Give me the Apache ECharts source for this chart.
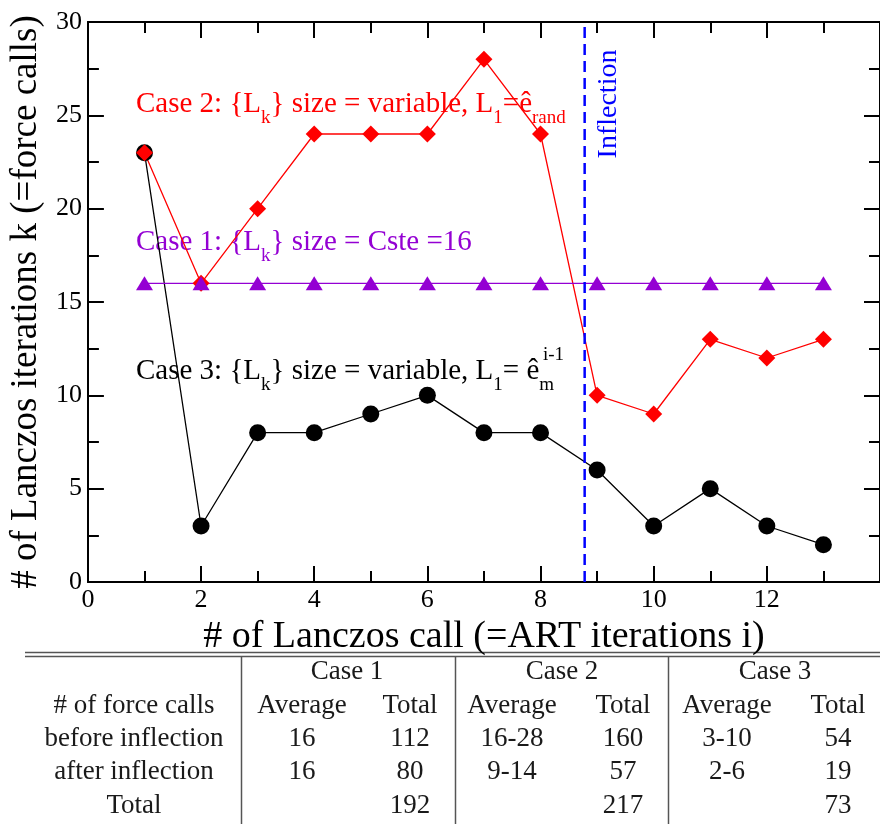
<!DOCTYPE html>
<html>
<head>
<meta charset="utf-8">
<script src="https://cdn.jsdelivr.net/npm/echarts@6/dist/echarts.min.js"></script>
<style>
html,body{margin:0;padding:0;background:#fff;}
#chart{width:880px;height:824px;}
</style>
</head>
<body>
<div id="chart"></div>
<script>
// ---------------- data ----------------
const lanczosCalls = [1, 2, 3, 4, 5, 6, 7, 8, 9, 10, 11, 12, 13];
const case1Iterations = [16, 16, 16, 16, 16, 16, 16, 16, 16, 16, 16, 16, 16];
const case2Iterations = [23, 16, 20, 24, 24, 24, 28, 24, 10, 9, 13, 12, 13];
const case3Iterations = [23, 3, 8, 8, 9, 10, 8, 8, 6, 3, 5, 3, 2];
const inflectionX = 8.78;
const inflectionRange = [0, 30];

const xTitle = '# of Lanczos call (=ART iterations i)';
const yTitle = '# of Lanczos iterations k (=force calls)';

const tableCaseHeaders = ['Case 1', 'Case 2', 'Case 3'];
const tableSubHeaders = ['Average', 'Total', 'Average', 'Total', 'Average', 'Total'];
const tableRowLabels = ['# of force calls', 'before inflection', 'after inflection', 'Total'];
const rowBeforeInflection = ['16', '112', '16-28', '160', '3-10', '54'];
const rowAfterInflection = ['16', '80', '9-14', '57', '2-6', '19'];
const rowTotal = ['', '192', '', '217', '', '73'];

// ---------------- layout / style ----------------
const SERIF = 'Liberation Serif';
const RED = '#ff0000', PURPLE = '#9400d3', BLUE = '#0000ff';

const pairs = (xs, ys) => xs.map((x, i) => [x, ys[i]]);

const chart = echarts.init(document.getElementById('chart'));

function axisCommon() {
  return {
    type: 'value',
    axisLine: { show: true, onZero: false, lineStyle: { color: '#000', width: 2 } },
    axisTick: { show: true, inside: true, length: 16, lineStyle: { color: '#000', width: 2 } },
    minorTick: { show: true, splitNumber: 2, length: 11, lineStyle: { color: '#000', width: 2 } },
    splitLine: { show: false },
    minorSplitLine: { show: false }
  };
}

const xBottom = Object.assign(axisCommon(), {
  position: 'bottom', min: 0, max: 14, interval: 2,
  axisLabel: { show: true, fontFamily: SERIF, fontSize: 26, color: '#000', margin: 5, showMaxLabel: false },
  name: xTitle, nameLocation: 'middle', nameGap: 29,
  nameTextStyle: { fontFamily: SERIF, fontSize: 38, color: '#000' }
});
const xTop = Object.assign(axisCommon(), {
  position: 'top', min: 0, max: 14, interval: 2, axisLabel: { show: false }
});
const yLeft = Object.assign(axisCommon(), {
  position: 'left', min: 0, max: 30, interval: 5,
  axisLabel: { show: true, fontFamily: SERIF, fontSize: 26, color: '#000', margin: 6 },
  name: yTitle, nameLocation: 'middle', nameGap: 40,
  nameTextStyle: { fontFamily: SERIF, fontSize: 37, color: '#000' }
});
const yRight = Object.assign(axisCommon(), {
  position: 'right', min: 0, max: 30, interval: 5, axisLabel: { show: false }
});

// annotation text: plain parts use the base style, {s|..} are subscripts
function annotation(text, color, left, top) {
  return {
    type: 'text', z: 1, left: left, top: top,
    style: {
      text: text,
      fontFamily: SERIF, fontSize: 29, fill: color, lineHeight: 48,
      rich: {
        s: { fontFamily: SERIF, fontSize: 19, fill: color, lineHeight: 18, verticalAlign: 'bottom' }
      }
    }
  };
}

const graphics = [];
graphics.push(annotation('Case 2: {L{s|k}} size = variable, L{s|1}=ê{s|rand}', RED, 136, 80));
graphics.push(annotation('Case 1: {L{s|k}} size = Cste =16', PURPLE, 136, 218));
graphics.push(annotation('Case 3: {L{s|k}} size = variable, L{s|1}= ê{s|m}', '#000', 136, 347));
graphics.push({
  type: 'text', z: 1, left: 543, top: 346,
  style: { text: 'i-1', fontFamily: SERIF, fontSize: 19, fill: '#000' }
});
graphics.push({
  type: 'text', z: 1, x: 609, y: 104, rotation: Math.PI / 2,
  style: { text: 'Inflection', fontFamily: SERIF, fontSize: 28, fill: BLUE, align: 'center', verticalAlign: 'middle' }
});

// table
const TABLE_LINE = '#555';
const rowY = [672, 706, 739, 772, 806];
const colX = [302, 410, 512, 623, 727, 838];
const caseX = [347, 562, 775];
const labelX = 134;
const vLineX = [241.5, 455.5, 668.5];
graphics.push({ type: 'line', shape: { x1: 25, y1: 652.5, x2: 880, y2: 652.5 }, style: { stroke: TABLE_LINE, lineWidth: 1.5 } });
graphics.push({ type: 'line', shape: { x1: 25, y1: 656.5, x2: 880, y2: 656.5 }, style: { stroke: TABLE_LINE, lineWidth: 1.5 } });
vLineX.forEach(x => graphics.push({ type: 'line', shape: { x1: x, y1: 657, x2: x, y2: 824 }, style: { stroke: TABLE_LINE, lineWidth: 1.5 } }));

function cell(text, x, y) {
  graphics.push({
    type: 'text', x: x, y: y,
    style: { text: text, fontFamily: SERIF, fontSize: 27, fill: '#1a1a1a', align: 'center', verticalAlign: 'middle' }
  });
}
tableCaseHeaders.forEach((t, i) => cell(t, caseX[i], rowY[0]));
tableRowLabels.forEach((t, i) => cell(t, labelX, rowY[i + 1]));
tableSubHeaders.forEach((t, i) => cell(t, colX[i], rowY[1]));
rowBeforeInflection.forEach((t, i) => cell(t, colX[i], rowY[2]));
rowAfterInflection.forEach((t, i) => cell(t, colX[i], rowY[3]));
rowTotal.forEach((t, i) => { if (t) cell(t, colX[i], rowY[4]); });

chart.setOption({
  animation: false,
  backgroundColor: '#fff',
  grid: { left: 87, right: -8, top: 22, bottom: 242, containLabel: false },
  xAxis: [xBottom, xTop],
  yAxis: [yLeft, yRight],
  graphic: graphics,
  series: [
    {
      name: 'Case 3', type: 'line', data: pairs(lanczosCalls, case3Iterations),
      symbol: 'circle', symbolSize: 17,
      itemStyle: { color: '#000' }, lineStyle: { color: '#000', width: 1.3 }
    },
    {
      name: 'Case 2', type: 'line', data: pairs(lanczosCalls, case2Iterations),
      symbol: 'diamond', symbolSize: 17,
      itemStyle: { color: RED }, lineStyle: { color: RED, width: 1.3 }
    },
    {
      name: 'Case 1', type: 'line', data: pairs(lanczosCalls, case1Iterations),
      symbol: 'triangle', symbolSize: [17, 14],
      itemStyle: { color: PURPLE }, lineStyle: { color: PURPLE, width: 1.3 }
    },
    {
      name: 'Inflection', type: 'line',
      data: inflectionRange.map(v => [inflectionX, v]),
      symbol: 'none',
      lineStyle: { color: BLUE, width: 2.5, type: [11, 6] }
    }
  ]
});
</script>
</body>
</html>
